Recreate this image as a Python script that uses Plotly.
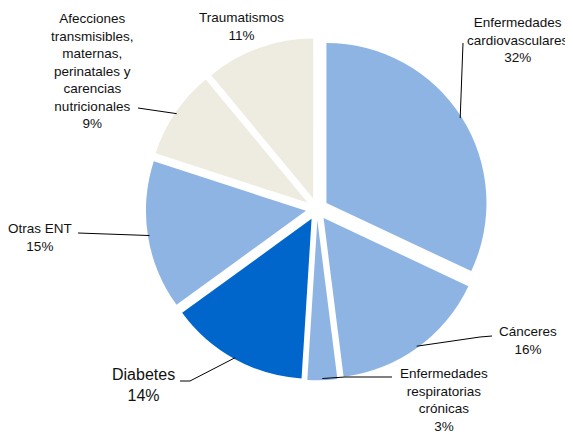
import math
import plotly.graph_objects as go

# ---- data ----
categories = [
    "Enfermedades<br>cardiovasculares",
    "Cánceres",
    "Enfermedades<br>respiratorias<br>crónicas",
    "Diabetes",
    "Otras ENT",
    "Afecciones<br>transmisibles,<br>maternas,<br>perinatales y<br>carencias<br>nutricionales",
    "Traumatismos",
]
values = [32, 16, 3, 14, 15, 9, 11]
colors = ["#8EB4E3", "#8EB4E3", "#8EB4E3", "#0066CC", "#8EB4E3", "#EEECE1", "#EEECE1"]

# ---- layout geometry (pixels of the reference; page has an 8px body margin) ----
OFF = 8
W, H = 573 - OFF, 435 - OFF
CX, CY, R = 317 - OFF, 209 - OFF, 160
PULL = 0.07
half = R * (1 + PULL)
dom_x = [(CX - half) / W, (CX + half) / W]
dom_y = [1 - (CY + half) / H, 1 - (CY - half) / H]

# label text centres, font sizes, leader start points (None = no leader)
label_pos = [(518, 40), (528, 340), (444, 400), (143, 385), (40, 237), (92, 71), (241, 26)]
label_size = [13.5, 13.5, 13.5, 16, 13.5, 13.5, 13.5]
leader_start = [[(463, 43)], [(492, 336), (480, 337)], [(392, 377), (345, 377)], [(180, 381), (190, 381)],
                [(78, 233)], [(138, 108)], None]

fig = go.Figure(go.Pie(
    labels=categories, values=values, sort=False, direction="clockwise", rotation=0,
    marker=dict(colors=colors, line=dict(width=0)), pull=[PULL] * len(values),
    textinfo="none", hoverinfo="label+percent", domain=dict(x=dom_x, y=dom_y),
    showlegend=False,
))

def px2paper(x, y):
    return (x - OFF) / W, 1 - (y - OFF) / H

total = sum(values)
cum = 0
shapes, annotations = [], []
for i, v in enumerate(values):
    mid = (cum + v / 2) / total * 2 * math.pi
    cum += v
    ox = CX + OFF + R * PULL * math.sin(mid)
    oy = CY + OFF - R * PULL * math.cos(mid)
    ax = ox + R * 0.99 * math.sin(mid)
    ay = oy - R * 0.99 * math.cos(mid)
    pct = round(v / total * 100)
    tx, ty = px2paper(*label_pos[i])
    annotations.append(dict(
        x=tx, y=ty, xref="paper", yref="paper", showarrow=False,
        xanchor="center", yanchor="middle",
        text=f"{categories[i]}<br>{pct}%", align="center",
        font=dict(family="Liberation Sans, Arial", size=label_size[i], color="#111111"),
    ))
    if leader_start[i]:
        pts = [px2paper(x, y) for x, y in leader_start[i]] + [px2paper(ax, ay)]
        path = "M " + " L ".join(f"{x},{y}" for x, y in pts)
        shapes.append(dict(type="path", xref="paper", yref="paper", path=path,
                           line=dict(color="black", width=1)))

fig.update_layout(
    width=W, height=H, margin=dict(l=0, r=0, t=0, b=0),
    paper_bgcolor="white", plot_bgcolor="white",
    annotations=annotations, shapes=shapes,
)
fig.write_html("out.html")
